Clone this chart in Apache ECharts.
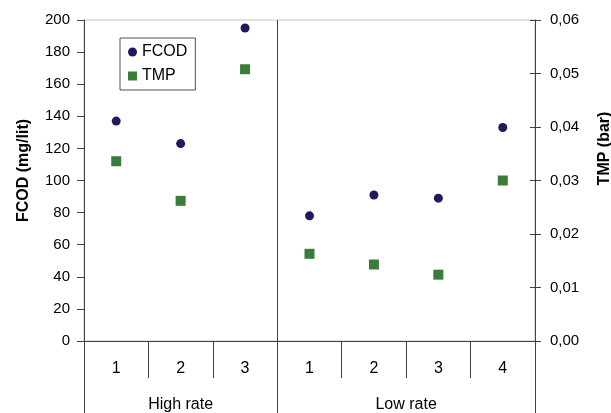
<!DOCTYPE html>
<html>
<head>
<meta charset="utf-8">
<script src="https://cdn.jsdelivr.net/npm/echarts@6/dist/echarts.min.js"></script>
<style>
html, body { margin: 0; padding: 0; background: #fff; }
#main { width: 611px; height: 413px; }
</style>
</head>
<body>
<div id="main"></div>
<script>
// run numbers inside each rate group
var runs = ['1', '2', '3', '1', '2', '3', '4'];
var groups = ['High rate', 'Low rate'];
var groupEdges = [0, 3, 7];
var groupMids = [1.5, 5];
// FCOD (mg/lit) and TMP (bar)
var fcod = [137, 123, 195, 78, 91, 89, 133];
var tmp = [0.0336, 0.0262, 0.0508, 0.0163, 0.0143, 0.0124, 0.0300];
var fcodTicks = [0, 200, 20];
var tmpTicks = [0, 0.06, 0.01];

var axisColor = '#404040';
var font = 'Liberation Sans, Arial, sans-serif';

var chart = echarts.init(document.getElementById('main'));
var option = {
    animation: false,
    textStyle: { fontFamily: font },
    grid: {
        left: 84, right: 76, top: 20, bottom: 72,
        outerBoundsMode: 'none',
        show: true, borderColor: '#c4c4c4', borderWidth: 1, backgroundColor: 'transparent'
    },
    legend: {
        orient: 'vertical',
        left: 120, top: 38,
        padding: [6, 8, 6, 8],
        itemGap: 8,
        itemWidth: 9, itemHeight: 9,
        itemTextGap: 5,
        borderColor: '#505050', borderWidth: 1,
        textStyle: { fontSize: 16, color: '#000', fontFamily: font },
        data: [{ name: 'FCOD', icon: 'circle' }, { name: 'TMP', icon: 'rect' }]
    },
    xAxis: [
        {
            type: 'category',
            data: runs,
            position: 'bottom',
            axisLine: { show: true, lineStyle: { color: axisColor } },
            axisTick: { show: true, length: 37, lineStyle: { color: axisColor } },
            axisLabel: { margin: 20, fontSize: 16, color: '#000', fontFamily: font },
            splitLine: { show: false }
        },
        {
            // group row under the run numbers
            type: 'value',
            min: 0, max: 7,
            position: 'bottom',
            axisLine: { show: false },
            axisTick: { show: true, customValues: groupEdges, length: 72, lineStyle: { color: axisColor } },
            axisLabel: {
                customValues: groupMids,
                margin: 56, fontSize: 16, color: '#000', fontFamily: font,
                formatter: function (v) { return groups[groupMids.indexOf(v)]; }
            },
            splitLine: { show: false }
        }
    ],
    yAxis: [
        {
            type: 'value',
            position: 'left',
            min: fcodTicks[0], max: fcodTicks[1], interval: fcodTicks[2],
            name: 'FCOD (mg/lit)',
            nameLocation: 'middle',
            nameGap: 52,
            nameTextStyle: { fontSize: 16, fontWeight: 'bold', color: '#000', padding: [0, 0, 0, 20] },
            axisLine: { show: true, lineStyle: { color: axisColor } },
            axisTick: { show: true, length: 7, lineStyle: { color: axisColor } },
            axisLabel: { margin: 14, fontSize: 15, color: '#000', fontFamily: font },
            splitLine: { show: false }
        },
        {
            type: 'value',
            position: 'right',
            min: tmpTicks[0], max: tmpTicks[1], interval: tmpTicks[2],
            name: 'TMP (bar)',
            nameLocation: 'middle',
            nameGap: 62,
            nameTextStyle: { fontSize: 16, fontWeight: 'bold', color: '#000', padding: [0, 0, 0, 64] },
            axisLine: { show: true, lineStyle: { color: axisColor } },
            axisTick: { show: true, length: 6, lineStyle: { color: axisColor } },
            axisLabel: {
                margin: 15, fontSize: 15, color: '#000', fontFamily: font,
                formatter: function (v) { return v.toFixed(2).replace('.', ','); }
            },
            splitLine: { show: false }
        },
        {
            // inner half of the crossing ticks on the right axis, moved over from the left
            type: 'value',
            position: 'left',
            offset: -451,
            min: tmpTicks[0], max: tmpTicks[1], interval: tmpTicks[2],
            axisLine: { show: false },
            axisTick: { show: true, length: 5, lineStyle: { color: axisColor } },
            axisLabel: { show: false },
            splitLine: { show: false }
        }
    ],
    series: [
        {
            name: 'FCOD',
            type: 'scatter',
            xAxisIndex: 0, yAxisIndex: 0,
            symbol: 'circle',
            symbolSize: 9,
            itemStyle: { color: '#1d1b5e', opacity: 1 },
            data: fcod
        },
        {
            name: 'TMP',
            type: 'scatter',
            xAxisIndex: 0, yAxisIndex: 1,
            symbol: 'rect',
            symbolSize: 10,
            itemStyle: { color: '#3a7d3a', opacity: 1 },
            data: tmp
        },
        {
            // divider between the two rate groups
            name: 'divider',
            type: 'line',
            xAxisIndex: 1, yAxisIndex: 0,
            data: [],
            silent: true,
            markLine: {
                silent: true,
                symbol: 'none',
                label: { show: false },
                lineStyle: { color: axisColor, type: 'solid', width: 1 },
                data: [{ xAxis: groupEdges[1] }]
            }
        }
    ]
};
chart.setOption(option);
</script>
</body>
</html>
